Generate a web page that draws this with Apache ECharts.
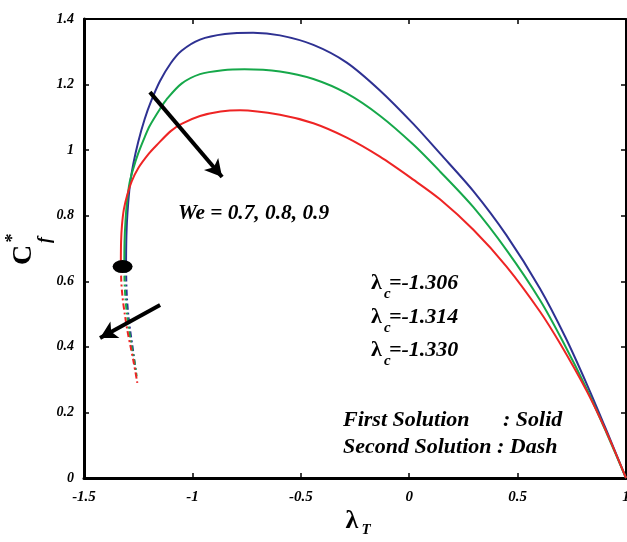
<!DOCTYPE html>
<html>
<head>
<meta charset="utf-8">
<script src="https://cdn.jsdelivr.net/npm/echarts@6/dist/echarts.min.js"></script>
<style>
html,body{margin:0;padding:0;background:#fff;}
#chart{width:627px;height:542px;}
</style>
</head>
<body>
<div id="chart"></div>
<script>
// ---- data: [lambda_T, Cf*] pairs ----
const blueSolid = [[-1.306,0.66],[-1.305,0.72],[-1.302,0.78],[-1.296,0.84],[-1.287,0.90],[-1.272,0.96],[-1.25,1.025],[-1.22,1.095],[-1.19,1.15],[-1.15,1.21],[-1.1,1.265],[-1.05,1.303],[-0.965,1.337],[-0.85,1.354],[-0.72,1.358],[-0.596,1.350],[-0.442,1.321],[-0.288,1.267],[-0.135,1.182],[0.019,1.080],[0.142,0.99],[0.296,0.875],[0.449,0.74],[0.603,0.578],[0.72,0.43],[0.82,0.285],[0.91,0.145],[1,0]];
const greenSolid = [[-1.314,0.66],[-1.313,0.72],[-1.309,0.78],[-1.302,0.84],[-1.29,0.90],[-1.272,0.945],[-1.25,0.99],[-1.22,1.04],[-1.196,1.075],[-1.15,1.125],[-1.119,1.155],[-1.05,1.203],[-0.965,1.232],[-0.86,1.244],[-0.76,1.247],[-0.596,1.240],[-0.442,1.217],[-0.288,1.173],[-0.135,1.105],[0.019,1.017],[0.142,0.935],[0.296,0.826],[0.449,0.695],[0.603,0.543],[0.71,0.415],[0.82,0.27],[0.91,0.138],[1,0]];
const redSolid = [[-1.330,0.66],[-1.329,0.72],[-1.325,0.77],[-1.316,0.82],[-1.30,0.865],[-1.28,0.905],[-1.25,0.945],[-1.2,0.99],[-1.165,1.015],[-1.1,1.058],[-1.05,1.08],[-0.965,1.104],[-0.87,1.118],[-0.78,1.122],[-0.596,1.108],[-0.442,1.082],[-0.288,1.038],[-0.135,0.98],[0.019,0.91],[0.142,0.85],[0.296,0.757],[0.449,0.645],[0.603,0.508],[0.696,0.41],[0.819,0.265],[0.91,0.14],[1,0]];
const blueDash = [[-1.306,0.66],[-1.305,0.60],[-1.302,0.55],[-1.296,0.50],[-1.287,0.45],[-1.276,0.40],[-1.266,0.35],[-1.262,0.33]];
const greenDash = [[-1.314,0.66],[-1.313,0.60],[-1.309,0.55],[-1.302,0.50],[-1.292,0.45],[-1.28,0.40],[-1.266,0.35],[-1.257,0.31]];
const redDash = [[-1.330,0.66],[-1.328,0.60],[-1.322,0.55],[-1.312,0.50],[-1.30,0.45],[-1.285,0.40],[-1.27,0.35],[-1.254,0.29]];
const arrowWe = [[-1.196,1.177],[-0.863,0.918]];
const arrowSecond = [[-1.149,0.528],[-1.426,0.427]];
const turningDot = [-1.322,0.645];
const lambdaC = ['-1.306','-1.314','-1.330'];
const weText = 'We = 0.7, 0.8, 0.9';

const BLUE = '#2e3192', GREEN = '#16a84a', RED = '#ee2424';
const FONT = 'Liberation Serif';

function lineSeries(data, color, dashed){
  return {
    type:'line', data:data, showSymbol:false, symbol:'none', smooth:0.3,
    lineStyle:{color:color, width:2, type: dashed ? [6,3,2,3] : 'solid'},
    z: dashed ? 3 : 4, animation:false, silent:true
  };
}

const chart = echarts.init(document.getElementById('chart'));
const labelStyle = {fontFamily:FONT, fontWeight:'bold', fontStyle:'italic', color:'#000'};

const series = [
  lineSeries(blueSolid, BLUE, false),
  lineSeries(greenSolid, GREEN, false),
  lineSeries(redSolid, RED, false),
  lineSeries(blueDash, BLUE, true),
  lineSeries(greenDash, GREEN, true),
  lineSeries(redDash, RED, true)
];
series[0].markLine = {
  silent:true, animation:false, symbol:['none','arrow'], symbolSize:[14,17],
  label:{show:false},
  lineStyle:{color:'#000', width:4, type:'solid'},
  data:[
    [{coord:arrowWe[0]},{coord:arrowWe[1]}],
    [{coord:arrowSecond[0]},{coord:arrowSecond[1]}]
  ]
};
series[0].markPoint = {
  silent:true, animation:false, symbol:'circle', symbolSize:[20,13],
  itemStyle:{color:'#000'}, label:{show:false},
  data:[{coord:turningDot}]
};

function txt(x,y,text,size,opts){
  return Object.assign({
    type:'text', x:x, y:y, silent:true,
    style:Object.assign({text:text, fontFamily:FONT, fontWeight:'bold', fontStyle:'italic', fontSize:size, fill:'#000', align:'left', verticalAlign:'middle'}, opts && opts.style || {})
  }, opts && opts.el || {});
}

const graphics = [
  // y axis title C_f^*
  txt(24,255,'C',28,{el:{rotation:Math.PI/2}, style:{fontStyle:'normal', align:'center'}}),
  txt(45,240,'f',18,{el:{rotation:Math.PI/2}, style:{align:'center'}}),
  txt(13,238,'*',18,{el:{rotation:Math.PI/2}, style:{fontStyle:'normal', align:'center'}}),
  // x axis title lambda_T
  txt(352,521,'λ',26,{style:{align:'center', fontStyle:'normal'}}),
  txt(366,530,'T',15,{style:{align:'center'}}),
  // We annotation
  txt(178,213,weText,22,{el:{scaleX:0.97}}),
  // first/second solution
  txt(343,420,'First Solution',22),
  txt(503,420,': Solid',22),
  txt(343,447,'Second Solution : Dash',22)
];
const lcY = [283,317,350];
lambdaC.forEach((v,i)=>{
  graphics.push(txt(371,lcY[i],'λ',22,{style:{fontStyle:'normal'}}));
  graphics.push(txt(384,lcY[i]+11,'c',15,{}));
  graphics.push(txt(389,lcY[i],'=' + v,22,{}));
});

chart.setOption({
  backgroundColor:'#fff',
  animation:false,
  grid:{left:84, right:1, top:19, bottom:64, containLabel:false, outerBoundsMode:'none'},
  xAxis:[{
    type:'value', min:-1.5, max:1, interval:0.5, position:'bottom',
    axisLine:{show:true, onZero:false, lineStyle:{color:'#000', width:3}},
    axisTick:{show:true, inside:true, length:5, lineStyle:{color:'#000', width:1.5}},
    axisLabel:Object.assign({margin:12, fontSize:15}, labelStyle),
    splitLine:{show:false}
  },{
    type:'value', min:-1.5, max:1, interval:0.5, position:'top',
    axisLine:{show:true, onZero:false, lineStyle:{color:'#000', width:2}},
    axisTick:{show:true, inside:true, length:5, lineStyle:{color:'#000', width:1.5}},
    axisLabel:{show:false}, splitLine:{show:false}
  }],
  yAxis:[{
    type:'value', min:0, max:1.4, interval:0.2, position:'left',
    axisLine:{show:true, onZero:false, lineStyle:{color:'#000', width:3}},
    axisTick:{show:true, inside:true, length:5, lineStyle:{color:'#000', width:1.5}},
    axisLabel:Object.assign({margin:10, fontSize:14}, labelStyle),
    splitLine:{show:false}
  },{
    type:'value', min:0, max:1.4, interval:0.2, position:'right',
    axisLine:{show:true, onZero:false, lineStyle:{color:'#000', width:2}},
    axisTick:{show:true, inside:true, length:5, lineStyle:{color:'#000', width:1.5}},
    axisLabel:{show:false}, splitLine:{show:false}
  }],
  series:series,
  graphic:graphics
});
</script>
</body>
</html>
